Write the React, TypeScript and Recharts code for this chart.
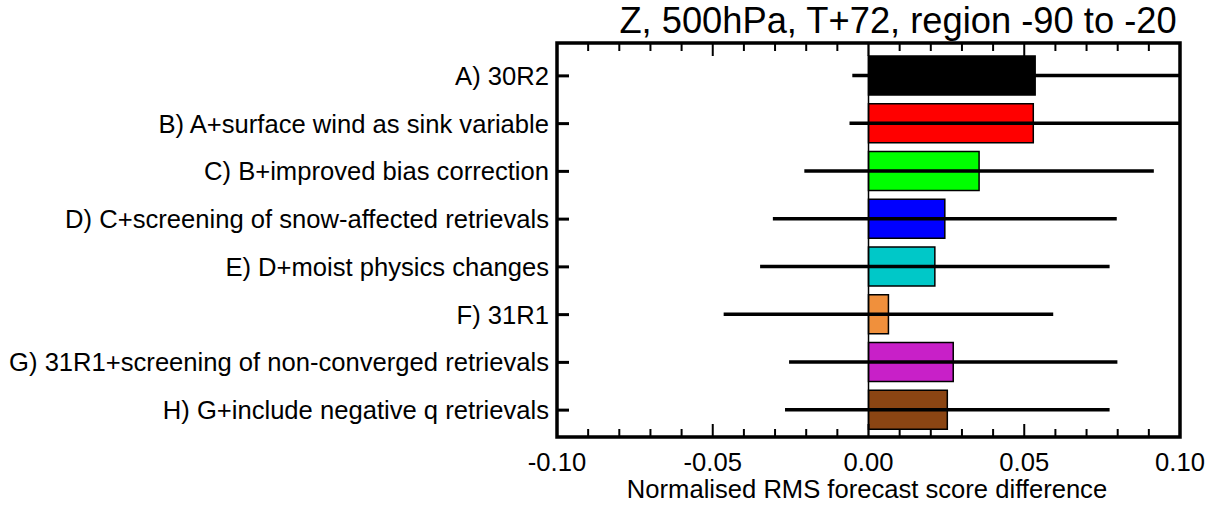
import React from 'react';
import { ComposedChart, Bar, XAxis, YAxis, ErrorBar, ReferenceLine, ReferenceArea, Cell } from 'recharts';

const categories = [
  'A) 30R2',
  'B) A+surface wind as sink variable',
  'C) B+improved bias correction',
  'D) C+screening of snow-affected retrievals',
  'E) D+moist physics changes',
  'F) 31R1',
  'G) 31R1+screening of non-converged retrievals',
  'H) G+include negative q retrievals',
];
const scores = [0.0535, 0.0529, 0.0355, 0.0245, 0.0213, 0.0064, 0.0272, 0.0253];
const confidence = [0.0587, 0.059, 0.0561, 0.0552, 0.0561, 0.0529, 0.0527, 0.0521];
const barColors = ['#000000', '#ff0000', '#00ff00', '#0000ff', '#00c8c8', '#f0903c', '#c820c8', '#8b4513'];
const majorTicks = [-0.1, -0.05, 0, 0.05, 0.1];
const minorTicks = [-0.09, -0.08, -0.07, -0.06, -0.04, -0.03, -0.02, -0.01, 0.01, 0.02, 0.03, 0.04, 0.06, 0.07, 0.08, 0.09];
const allTicks = [...majorTicks, ...minorTicks].sort((a, b) => a - b);
const xDomain = [-0.1, 0.1];
const titleText = 'Z, 500hPa, T+72, region -90 to -20';
const xTitle = 'Normalised RMS forecast score difference';

const FONT = '"Liberation Sans", Arial, Helvetica, sans-serif';

const CHART_W = 1211;
const CHART_H = 505;
const MARGIN = { top: 43, right: 31, bottom: 0, left: 0 };
const X_AXIS_H = 68;
const PLOT_H = CHART_H - MARGIN.top - MARGIN.bottom - X_AXIS_H;

const data = categories.map((name, i) => ({ name, score: scores[i], err: confidence[i] }));

const isMajor = (v: number) => majorTicks.some((m) => Math.abs(m - v) < 1e-9);

const BottomTick = (props: any) => {
  const { x, y, payload } = props;
  const v = payload.value as number;
  const major = isMajor(v);
  const len = major ? 13 : 8;
  const top = y - PLOT_H;
  return (
    <g>
      <line x1={x} x2={x} y1={y} y2={y - len} stroke="#000" strokeWidth={2} />
      <line x1={x} x2={x} y1={top} y2={top + len} stroke="#000" strokeWidth={2} />
      {major && (
        <text x={x} y={y + 34} textAnchor="middle" fontSize={25.6} fill="#000" fontFamily={FONT}>
          {v.toFixed(2)}
        </text>
      )}
    </g>
  );
};

const LeftTick = (props: any) => {
  const { x, y, payload } = props;
  return (
    <g>
      <line x1={x} x2={x + 12} y1={y} y2={y} stroke="#000" strokeWidth={3} />
      <text x={x - 8} y={y + 9} textAnchor="end" fontSize={25.6} fill="#000" fontFamily={FONT}>
        {payload.value}
      </text>
    </g>
  );
};

export default function App() {
  return (
    <div style={{ position: 'absolute', left: 0, top: 0, width: CHART_W, height: CHART_H, background: '#fff' }}>
      <ComposedChart layout="vertical" width={CHART_W} height={CHART_H} data={data} margin={MARGIN}>
        <XAxis
          xAxisId="b"
          type="number"
          domain={xDomain}
          allowDataOverflow
          ticks={allTicks}
          interval={0}
          orientation="bottom"
          height={X_AXIS_H}
          tickSize={0}
          tickMargin={0}
          tickLine={false}
          axisLine={false}
          tick={<BottomTick />}
        />
        <YAxis
          yAxisId="l"
          type="category"
          dataKey="name"
          width={557}
          padding={{ top: 9, bottom: 3 }}
          interval={0}
          tickSize={0}
          tickMargin={0}
          tickLine={false}
          axisLine={false}
          tick={<LeftTick />}
        />
        <YAxis
          yAxisId="r"
          type="category"
          dataKey="name"
          orientation="right"
          width={0}
          tick={false}
          tickLine={false}
          axisLine={false}
        />
        <ReferenceLine xAxisId="b" yAxisId="r" x={0} stroke="#000" strokeWidth={1.5} />
        <Bar
          xAxisId="b"
          yAxisId="l"
          dataKey="score"
          barSize={39}
          stroke="#000"
          strokeWidth={1.5}
          isAnimationActive={false}
        >
          {data.map((d, i) => (
            <Cell key={d.name} fill={barColors[i]} />
          ))}
          <ErrorBar dataKey="err" direction="x" width={0} stroke="#000" strokeWidth={3.5} isAnimationActive={false} />
        </Bar>
        <ReferenceArea
          xAxisId="b"
          yAxisId="r"
          x1={0.1}
          x2={0.12}
          fill="#ffffff"
          fillOpacity={1}
          stroke="none"
          ifOverflow="visible"
          zIndex={2000}
        />
        <ReferenceArea
          xAxisId="b"
          yAxisId="r"
          x1={xDomain[0]}
          x2={xDomain[1]}
          fill="none"
          stroke="#000"
          strokeWidth={3.5}
          ifOverflow="visible"
          zIndex={2001}
        />
      </ComposedChart>
      <svg width={CHART_W} height={CHART_H} style={{ position: 'absolute', left: 0, top: 0, pointerEvents: 'none' }}>
        <text x={898} y={33} textAnchor="middle" fontSize={36.3} fill="#000" fontFamily={FONT}>
          {titleText}
        </text>
        <text x={867} y={498} textAnchor="middle" fontSize={25.6} fill="#000" fontFamily={FONT}>
          {xTitle}
        </text>
      </svg>
    </div>
  );
}
